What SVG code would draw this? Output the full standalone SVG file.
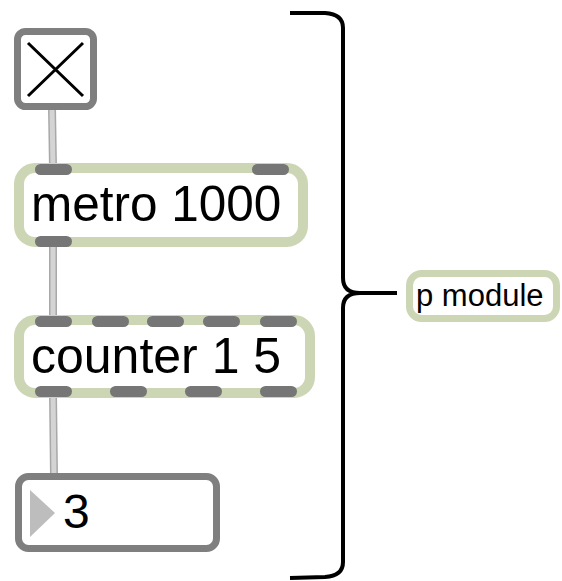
<svg xmlns="http://www.w3.org/2000/svg" width="562" height="581" viewBox="0 0 562 581">
<style>
.obj{fill:#fff;stroke:#ccd6b4;stroke-width:10}
.gray{fill:#fff;stroke:#7f7f7f;stroke-width:7}
.port{fill:#767676}
.txt{font-family:"Liberation Sans",Arial,sans-serif;fill:#000}
.cordo{stroke:#a8a8a8;stroke-width:8;fill:none}
.cordi{stroke:#d4d4d4;stroke-width:5;fill:none}
.brace{fill:none;stroke:#000;stroke-width:4;stroke-linecap:butt}
</style>
<rect width="562" height="581" fill="#fff"/>
<g id="connectors">
<line class="cordo" x1="52" y1="108" x2="53" y2="168"/>
<line class="cordi" x1="52" y1="108" x2="53" y2="168"/>
<line class="cordo" x1="53" y1="244" x2="53" y2="320"/>
<line class="cordi" x1="53" y1="244" x2="53" y2="320"/>
<line class="cordo" x1="53" y1="394" x2="54" y2="476"/>
<line class="cordi" x1="53" y1="394" x2="54" y2="476"/>
</g>
<g id="toggle">
<rect class="gray" x="17.5" y="31.5" width="76" height="75" rx="8"/>
<path d="M28 43 L83 96 M83 43 L28 96" stroke="#000" stroke-width="3" fill="none"/>
</g>
<g id="metro">
<rect class="obj" x="19" y="168" width="284" height="74" rx="16"/>
<rect class="port" x="35" y="164" width="37" height="11" rx="5.5"/>
<rect class="port" x="252" y="164" width="37" height="11" rx="5.5"/>
<rect class="port" x="35" y="236" width="37" height="11" rx="5.5"/>
<text class="txt" x="31" y="221" font-size="49.5">metro 1000</text>
</g>
<g id="counter">
<rect class="obj" x="19" y="320" width="291" height="73" rx="16"/>
<rect class="port" x="35" y="316" width="37" height="11" rx="5.5"/>
<rect class="port" x="92" y="316" width="37" height="11" rx="5.5"/>
<rect class="port" x="147" y="316" width="37" height="11" rx="5.5"/>
<rect class="port" x="203" y="316" width="37" height="11" rx="5.5"/>
<rect class="port" x="260" y="316" width="37" height="11" rx="5.5"/>
<rect class="port" x="35" y="386" width="37" height="11" rx="5.5"/>
<rect class="port" x="110" y="386" width="37" height="11" rx="5.5"/>
<rect class="port" x="185" y="386" width="37" height="11" rx="5.5"/>
<rect class="port" x="260" y="386" width="37" height="11" rx="5.5"/>
<text class="txt" x="31" y="373" font-size="50">counter 1 5</text>
</g>
<g id="number">
<rect class="gray" x="18.5" y="476.5" width="198" height="72" rx="10"/>
<path d="M30 490 L55 513 L30 537 Z" fill="#bdbdbd"/>
<text class="txt" x="63" y="528" font-size="48">3</text>
</g>
<g id="brace">
<path class="brace" d="M290 13 L325 13 Q343 14 343 28 L343 278 Q343 293 360 293 L397 293 M360 293 Q343 293 343 308 L343 562 Q343 576 325 577 L290 578"/>
</g>
<g id="pmodule">
<rect x="409.5" y="273.5" width="147" height="45" rx="12" fill="#fff" stroke="#ccd6b4" stroke-width="7"/>
<text class="txt" x="416" y="306" font-size="31">p module</text>
</g>
</svg>
